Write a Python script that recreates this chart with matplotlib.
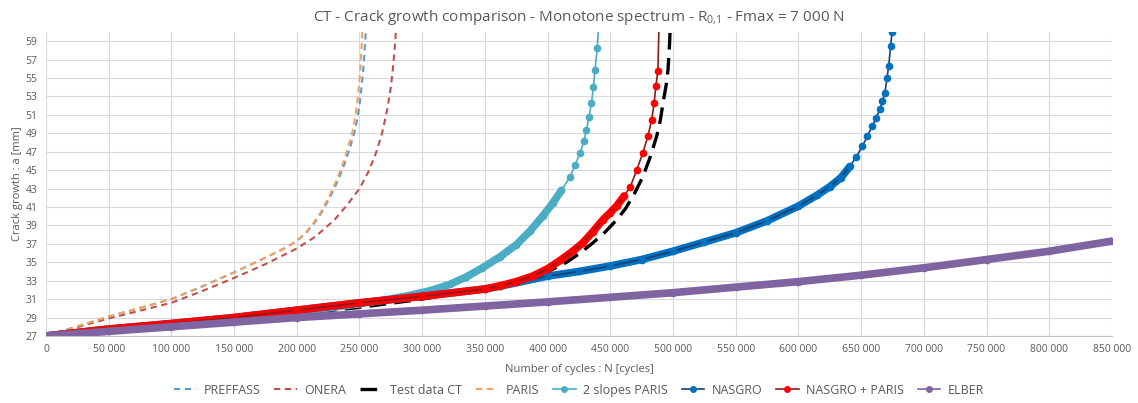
import matplotlib.pyplot as plt
import numpy as np
from matplotlib.ticker import FuncFormatter, MultipleLocator

plt.rcParams['font.family'] = ['Open Sans', 'DejaVu Sans']
plt.rcParams['mathtext.default'] = 'regular'

# values (N in cycles, a in mm)
preffass_n = [0, 50000, 100000, 125000, 150000, 175000, 190000, 200000, 207500, 213700,
              219800, 227000, 233200, 238400, 242600, 246800, 250000, 252800, 255300]
preffass_a = [27, 29.1, 31.0, 32.4, 33.9, 35.5, 36.5, 37.3, 38.2, 39.2,
              40.4, 42.2, 44.0, 45.8, 47.5, 49.5, 52.0, 55.5, 60.5]

onera_n = [0, 50000, 100000, 125000, 150000, 175000, 200000, 215000, 230000, 240000,
           250000, 257000, 263000, 268000, 272000, 275000, 277000, 278500, 279500]
onera_a = [27, 28.9, 30.6, 31.9, 33.3, 34.8, 36.5, 37.8, 39.6, 41.2,
           43.0, 44.8, 46.8, 49.0, 51.5, 54.0, 56.5, 59.0, 61.0]

test_n = [0, 50000, 100000, 150000, 200000, 250000, 300000, 330000, 362000, 375000,
          388000, 402000, 415000, 426000, 436000, 446000, 455000, 462000, 469000,
          476000, 482000, 487000, 490000, 492000, 494500, 496000, 497000, 497800]
test_a = [27, 27.7, 28.3, 28.9, 29.4, 30.1, 31.0, 31.7, 32.4, 32.8,
          33.3, 34.1, 35.0, 36.0, 37.1, 38.3, 39.6, 40.8, 42.4,
          44.3, 46.5, 48.7, 50.5, 52.3, 54.2, 55.9, 58.0, 60.5]

paris_n = [0, 50000, 100000, 125000, 150000, 175000, 190000, 200000, 207000, 213000,
           219000, 226000, 232000, 237000, 241000, 245000, 248000, 250500, 252500]
paris_a = [27, 29.1, 31.0, 32.4, 33.9, 35.5, 36.5, 37.3, 38.2, 39.2,
           40.4, 42.2, 44.0, 45.8, 47.5, 49.5, 52.0, 55.5, 60.5]

slopes_n = [0, 50000, 100000, 150000, 200000, 250000, 270000, 290000, 306000, 322000, 335000,
            348000, 362000, 375000, 386000, 396000, 404000, 411000, 418000, 422000, 426000,
            429000, 431000, 433000, 435000, 436500, 437800, 439600, 440800]
slopes_a = [27, 27.7, 28.3, 28.9, 29.6, 30.5, 30.9, 31.4, 31.9, 32.6, 33.4,
            34.4, 35.6, 36.9, 38.4, 40.0, 41.4, 42.8, 44.3, 45.6, 46.9,
            48.2, 49.4, 50.8, 52.3, 54.0, 55.9, 58.3, 61.0]

nasgro_n = [0, 50000, 100000, 150000, 200000, 250000, 300000, 350000, 362000, 400000,
            425000, 450000, 475000, 500000, 525000, 550000, 575000, 600000, 615000,
            625000, 634000, 641000, 646000, 651000, 655000, 659000, 662000,
            665000, 667000, 669000, 670600, 672000, 673500, 674700]
nasgro_a = [27, 27.75, 28.35, 29.0, 29.8, 30.6, 31.3, 32.1, 32.4, 33.5,
            34.0, 34.6, 35.3, 36.2, 37.2, 38.2, 39.5, 41.1, 42.3,
            43.2, 44.2, 45.4, 46.4, 47.6, 48.7, 49.8, 50.7,
            51.6, 52.5, 53.4, 55.0, 56.3, 58.5, 60.0]

np_n = [0, 50000, 100000, 150000, 200000, 250000, 300000, 350000, 362000, 375000,
        388000, 400000, 410000, 420000, 428000, 436000, 444000, 450000, 455000, 461000,
        466000, 471000, 476000, 480000, 483000, 485000, 486300, 488000, 489000]
np_a = [27, 27.75, 28.35, 29.0, 29.8, 30.6, 31.3, 32.1, 32.45, 32.9,
        33.5, 34.3, 35.2, 36.2, 37.1, 38.3, 39.6, 40.4, 41.1, 42.2,
        43.2, 45.0, 46.9, 48.7, 50.5, 52.3, 54.1, 55.8, 62.0]

elber_n = [0, 50000, 100000, 150000, 200000, 250000, 300000, 350000, 400000, 450000,
           500000, 550000, 600000, 650000, 700000, 750000, 800000, 850000]
elber_a = [27, 27.5, 28.0, 28.5, 29.0, 29.4, 29.8, 30.25, 30.7, 31.2,
           31.7, 32.3, 32.9, 33.6, 34.4, 35.3, 36.2, 37.3]

grey = '#595959'

fig = plt.figure(figsize=(11.38, 4.03), dpi=100)
ax = fig.add_axes([0.0404, 0.1663, 0.9367, 0.7543])

ax.plot(preffass_n, preffass_a, color='#5B9BD5', lw=1.5, dashes=(3, 2.2), label='PREFFASS')
ax.plot(onera_n, onera_a, color='#C0504D', lw=1.5, dashes=(3, 2.2), label='ONERA')
ax.plot(test_n, test_a, color='black', lw=2.4, dashes=(5, 2.5), label='Test data CT')
ax.plot(paris_n, paris_a, color='#F4A15E', lw=1.5, dashes=(3, 2.2), label='PARIS')

# marker series: dense markers in Excel look like a thick band at the bottom
marker_series = [
    (slopes_n, slopes_a, '#4BACC6', '#4BACC6', 43, '2 slopes PARIS'),
    (nasgro_n, nasgro_a, '#0070C0', '#1F3F6E', 46, 'NASGRO'),
    (np_n, np_a, '#FF0000', '#8B1A1A', 43, 'NASGRO + PARIS'),
    (elber_n, elber_a, '#8064A2', '#8064A2', 99, 'ELBER'),
]
for n, a, mc, lc, lim, lab in marker_series:
    n = np.array(n)
    a = np.array(a)
    low = a <= lim
    ax.plot(n[low], a[low], color=mc, lw=5.5, solid_capstyle='round', solid_joinstyle='round')
    ax.plot(n, a, color=lc, lw=1.2, marker='o', ms=4.5, mfc=mc, mec=mc, label=lab)

ax.set_xlim(0, 850000)
ax.set_ylim(27, 60)
ax.xaxis.set_major_locator(MultipleLocator(50000))
ax.set_yticks(np.arange(27, 60, 2))
ax.xaxis.set_major_formatter(FuncFormatter(lambda v, p: f'{int(v):,}'.replace(',', ' ')))
ax.grid(True, color='#D9D9D9', lw=0.8)
ax.set_axisbelow(True)
for s in ['top', 'right', 'left']:
    ax.spines[s].set_visible(False)
ax.spines['bottom'].set_color('#BFBFBF')
ax.tick_params(length=0, labelsize=7.5, colors=grey, pad=6)

ax.set_title('CT - Crack growth comparison - Monotone spectrum - R$_{0{,}1}$ - Fmax = 7 000 N',
             fontsize=11, color=grey, pad=8)
ax.set_xlabel('Number of cycles : N [cycles]', fontsize=8, color=grey, labelpad=6)
ax.set_ylabel('Crack growth : a [mm]', fontsize=8, color=grey, labelpad=2)

leg = ax.legend(loc='center', bbox_to_anchor=(0.5, -0.178), ncol=8, frameon=False,
                fontsize=9, labelcolor=grey, handlelength=1.8, columnspacing=1.1,
                handletextpad=0.6)
for h in leg.get_lines():
    h.set_markersize(4)

fig.savefig('out.png', dpi=100)
